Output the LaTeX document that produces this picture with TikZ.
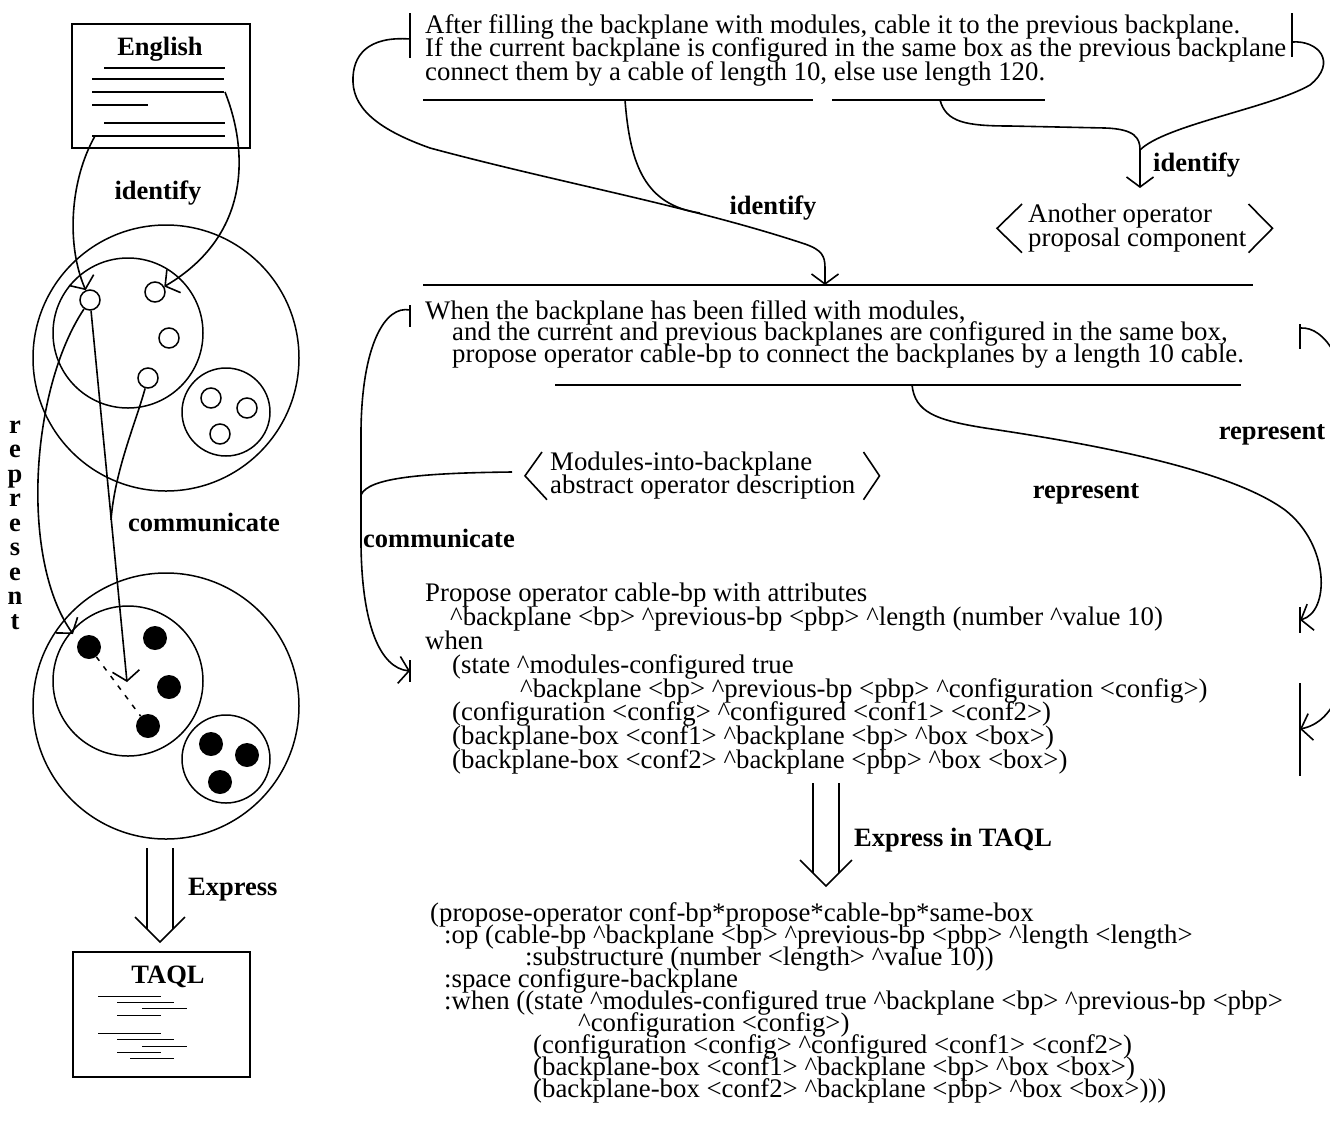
\documentclass[tikz,border=0pt]{standalone}
\usepackage{fontspec}
\setmainfont{Liberation Serif}
\usetikzlibrary{arrows.meta,positioning,calc}

\newcommand{\hatc}{\textasciicircum}
\newcommand{\tightlines}{\lineskiplimit=-30pt\lineskip=0pt}

\tikzstyle{line} = [draw, line width=1.6pt, -{Straight Barb[length=10pt,width=27pt]}]
\tikzstyle{plain_line} = [draw, line width=1.6pt]
\tikzstyle{rule_line} = [draw, line width=1.3pt]
\tikzstyle{bar_line} = [draw, line width=1.8pt]
\tikzstyle{doc_box} = [rectangle, draw, line width=1.8pt]
\tikzstyle{set_circle} = [circle, draw, line width=1.5pt, inner sep=0pt]
\tikzstyle{open_pt} = [circle, draw, line width=1.5pt, minimum size=20pt, inner sep=0pt]
\tikzstyle{full_pt} = [circle, fill=black, minimum size=24pt, inner sep=0pt]
\tikzstyle{verb_label} = [font=\fontsize{26.5}{24.5}\selectfont\bfseries, inner sep=0pt]
\tikzstyle{prose} = [font=\fontsize{26.8}{23}\selectfont\tightlines, align=left, inner sep=0pt, anchor=north west]

\begin{document}
\begin{tikzpicture}[x=1pt, y=-1pt]
	\useasboundingbox (0,0) rectangle (1330,1125);

	%Left: documents
	\node [doc_box, minimum width=178pt, minimum height=124pt] (english) at (161,86) {};
	\node [verb_label] (english_t) at (160,49) {English};
	\foreach \xa/\xb/\yy in {104/225/68, 92/224/79, 92/224/92, 92/148/105, 104/225/123, 92/225/136}
		\draw [rule_line] (\xa,\yy) -- (\xb,\yy);

	\node [doc_box, minimum width=177pt, minimum height=125pt] (taql) at (161.5,1014.5) {};
	\node [verb_label] (taql_t) at (168,977) {TAQL};
	\foreach \xa/\xb/\yy in {98/161/996, 117/174/1002, 142/187/1008, 117/161/1015, 98/161/1033, 117/174/1039, 142/187/1046, 117/161/1052, 130/174/1058}
		\draw [draw, line width=1pt] (\xa,\yy) -- (\xb,\yy);

	%Left: knowledge sets
	\node [set_circle, minimum size=266pt] (world_a) at (166,358) {};
	\node [set_circle, minimum size=150pt] (sub_a) at (128,333) {};
	\node [set_circle, minimum size=88pt] (grp_a) at (226,412) {};
	\node [set_circle, minimum size=266pt] (world_b) at (166,706) {};
	\node [set_circle, minimum size=150pt] (sub_b) at (128,681) {};
	\node [set_circle, minimum size=88pt] (grp_b) at (226,759) {};

	\foreach \nm/\px/\py in {o1/90/300, o2/155/292, o3/169/338, o4/148/378, c1/211/398, c2/247/408, c3/220/434}
		\node [open_pt] (\nm) at (\px,\py) {};
	\foreach \nm/\px/\py in {f1/89/647, f2/155/638, f3/169/687, f4/148/726, d1/211/744, d2/247/755, d3/220/782}
		\node [full_pt] (\nm) at (\px,\py) {};

	%Left: labels
	\node [verb_label] (lab_identify) at (158,193) {identify};
	\node [verb_label] (lab_communicate) at (204,522) {communicate};
	\node [verb_label, align=center] (lab_represent) at (15,525) {r\\e\\p\\r\\e\\s\\e\\n\\t};
	\node [verb_label, anchor=west] (lab_express) at (188,890) {Express};

	%Left: lines
	\coordinate (en_l) at (95,136);
	\coordinate (en_r) at (225,92);
	\coordinate (comm_tip) at (127,682);
	\coordinate (comm_join) at (111,520);
	\coordinate (rep_tip) at (73,634);
	\draw [line] (en_l) .. controls (70,180) and (66,245) .. (o1);
	\draw [line] (en_r) .. controls (248,150) and (252,235) .. (o2);
	\draw [line] (o1) -- (comm_tip);
	\draw [plain_line] (o4) .. controls (135,425) and (115,470) .. (comm_join);
	\draw [line] (o1) .. controls (30,390) and (20,560) .. (rep_tip);
	\draw [line width=1.5pt, dash pattern=on 5pt off 7pt] (f1) -- (f4);

	\coordinate (ex_top) at (160,848);
	\coordinate (ex_tip) at (160,942);
	\draw [plain_line] ($(ex_top)+(-13,0)$) -- ($(ex_tip)+(-13,-13)$);
	\draw [plain_line] ($(ex_top)+(13,0)$) -- ($(ex_tip)+(13,-13)$);
	\draw [plain_line] ($(ex_tip)+(-25,-25)$) -- (ex_tip) -- ($(ex_tip)+(25,-25)$);

	%Right: rules
	\node [prose, font=\fontsize{26.8}{23.5}\selectfont\tightlines] (rule_en) at (425,14) {After filling the backplane with modules, cable it to the previous backplane.\\
		If the current backplane is configured in the same box as the previous backplane\\
		connect them by a cable of length 10, else use length 120.};
	\node [prose, font=\fontsize{26.8}{21.5}\selectfont\tightlines] (rule_soar) at (425,300) {When the backplane has been filled with modules,\\
		\hspace*{27pt}and the current and previous backplanes are configured in the same box,\\
		\hspace*{27pt}propose operator cable-bp to connect the backplanes by a length 10 cable.};
	\node [prose, font=\fontsize{26.8}{23.8}\selectfont\tightlines] (rule_ops) at (425,583) {Propose operator cable-bp with attributes\\
		\hspace*{25pt}\hatc backplane <bp> \hatc previous-bp <pbp> \hatc length (number \hatc value 10)\\
		when\\
		\hspace*{27pt}(state \hatc modules-configured true\\
		\hspace*{95pt}\hatc backplane <bp> \hatc previous-bp <pbp> \hatc configuration <config>)\\
		\hspace*{27pt}(configuration <config> \hatc configured <conf1> <conf2>)\\
		\hspace*{27pt}(backplane-box <conf1> \hatc backplane <bp> \hatc box <box>)\\
		\hspace*{27pt}(backplane-box <conf2> \hatc backplane <pbp> \hatc box <box>)};
	\node [prose, font=\fontsize{26.8}{22}\selectfont\tightlines] (rule_taql) at (430,902) {(propose-operator conf-bp*propose*cable-bp*same-box\\
		\hspace*{14pt}:op (cable-bp \hatc backplane <bp> \hatc previous-bp <pbp> \hatc length <length>\\
		\hspace*{95pt}:substructure (number <length> \hatc value 10))\\
		\hspace*{14pt}:space configure-backplane\\
		\hspace*{14pt}:when ((state \hatc modules-configured true \hatc backplane <bp> \hatc previous-bp <pbp>\\
		\hspace*{148pt}\hatc configuration <config>)\\
		\hspace*{103pt}(configuration <config> \hatc configured <conf1> <conf2>)\\
		\hspace*{103pt}(backplane-box <conf1> \hatc backplane <bp> \hatc box <box>)\\
		\hspace*{103pt}(backplane-box <conf2> \hatc backplane <pbp> \hatc box <box>)))};

	%Right: operator descriptions
	\node [prose, font=\fontsize{26.8}{24}\selectfont\tightlines] (op_other) at (1028,204) {Another operator\\proposal component};
	\node [prose, font=\fontsize{26.8}{23}\selectfont\tightlines] (op_modules) at (550,452) {Modules-into-backplane\\abstract operator description};
	\draw [plain_line] ([xshift=-6pt]op_other.north west) -- ([xshift=-31pt]op_other.west) -- ([xshift=-6pt]op_other.south west);
	\draw [plain_line] ([xshift=2pt]op_other.north east) -- ([xshift=26pt]op_other.east) -- ([xshift=2pt]op_other.south east);
	\draw [plain_line] ([xshift=-8pt]op_modules.north west) -- ([xshift=-25pt]op_modules.west) -- ([xshift=-3pt]op_modules.south west);
	\draw [plain_line] ([xshift=8pt]op_modules.north east) -- ([xshift=24pt]op_modules.east) -- ([xshift=8pt]op_modules.south east);

	%Right: labels
	\node [verb_label] (lab_identify_a) at (773,208) {identify};
	\node [verb_label, anchor=west] (lab_identify_b) at (1153,165) {identify};
	\node [verb_label] (lab_represent_a) at (1086,494) {represent};
	\node [verb_label] (lab_represent_b) at (1272,435) {represent};
	\node [verb_label, anchor=west] (lab_communicate_b) at (363,538) {communicate};
	\node [verb_label, anchor=west] (lab_express_b) at (854,840) {Express in TAQL};

	%Right: rules and bars
	\draw [rule_line] (423,100) -- (813,100);
	\draw [rule_line] (832,100) -- (1045,100);
	\draw [rule_line] (423,285) -- (1253,285);
	\draw [rule_line] (555,385) -- (1241,385);
	\draw [bar_line] (410,13) -- (410,58);
	\draw [bar_line] (1292,13) -- (1292,57);
	\draw [bar_line] (410,305) -- (410,327);
	\draw [bar_line] (1300,324) -- (1300,349);
	\draw [bar_line] (410,660) -- (410,682);
	\draw [bar_line] (1300,607) -- (1300,633);
	\draw [bar_line] (1300,683) -- (1300,776);

	%Right: lines
	\coordinate (top_l) at (410,39);
	\coordinate (top_r) at (1292,42);
	\coordinate (ul_a) at (625,100);
	\coordinate (ul_b) at (940,100);
	\coordinate (hub_l) at (700,213);
	\coordinate (id_l_tip) at (825,285);
	\coordinate (hub_r) at (1140,150);
	\coordinate (id_r_tip) at (1140,188);
	\coordinate (soar_l) at (410,310);
	\coordinate (soar_r) at (1300,328);
	\coordinate (ops_tip) at (410,671);
	\coordinate (mod_end) at (512,472);
	\coordinate (comm_hub) at (361,495);
	\coordinate (ul_c) at (912,385);
	\coordinate (ops_tip_a) at (1300,620);
	\coordinate (ops_tip_b) at (1300,729);

	\draw [line] (top_l) .. controls (368,36) and (352,55) .. (353,82) .. controls (354,112) and (385,132) .. (430,148) .. controls (560,183) and (690,206) .. (805,244) .. controls (822,250) and (825,256) .. (825,268) -- (id_l_tip);
	\draw [plain_line] (ul_a) .. controls (630,165) and (645,205) .. (hub_l);
	\draw [plain_line] (top_r) .. controls (1318,40) and (1338,62) .. (1310,85) .. controls (1270,108) and (1165,125) .. (hub_r);
	\draw [plain_line] (ul_b) .. controls (946,122) and (965,126) .. (1010,126) -- (1105,128) .. controls (1135,129) and (1140,138) .. (hub_r);
	\draw [line] (hub_r) -- (id_r_tip);

	\draw [line] (soar_l) .. controls (385,305) and (362,345) .. (361,430) -- (361,545) .. controls (362,625) and (380,668) .. (ops_tip);
	\draw [plain_line] (mod_end) .. controls (420,473) and (368,478) .. (comm_hub);

	\draw [line] (ul_c) .. controls (915,412) and (935,420) .. (985,428) .. controls (1100,445) and (1230,470) .. (1285,510) .. controls (1330,545) and (1330,612) .. (ops_tip_a);
	\draw [line] (soar_r) .. controls (1326,326) and (1348,365) .. (1350,420) -- (1350,620) .. controls (1350,680) and (1335,722) .. (ops_tip_b);

	\coordinate (tq_top) at (826,783);
	\coordinate (tq_tip) at (826,886);
	\draw [plain_line] ($(tq_top)+(-13,0)$) -- ($(tq_tip)+(-13,-13)$);
	\draw [plain_line] ($(tq_top)+(13,0)$) -- ($(tq_tip)+(13,-13)$);
	\draw [plain_line] ($(tq_tip)+(-26,-26)$) -- (tq_tip) -- ($(tq_tip)+(26,-26)$);

\end{tikzpicture}
\end{document}
